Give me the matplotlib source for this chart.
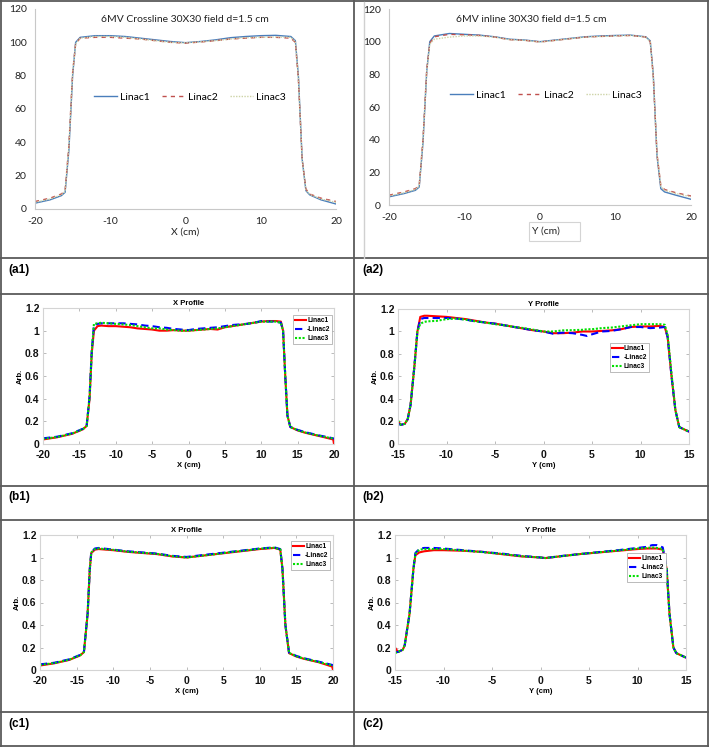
import matplotlib
matplotlib.use('Agg')
import matplotlib.pyplot as plt
from matplotlib.lines import Line2D
from matplotlib.patches import Rectangle

plt.rcParams['axes.unicode_minus'] = False

W, H = 709, 747

# ---- (a1) 6MV crossline, Excel style ----
a1_x = [-20, -18, -16.5, -16, -15.5, -15, -14.6, -14, -12, -10, -8, -6, -4, -2, 0,
        2, 4, 6, 8, 10, 12, 14, 14.6, 15, 15.5, 16, 16.5, 18, 20]
a1_linac1 = [3.5, 5.5, 8, 10, 35, 80, 100, 103, 104, 104, 103.5, 102.5, 101.5, 100.5, 99.8,
             100.5, 101.5, 102.8, 103.5, 104, 104.2, 103.5, 101, 80, 30, 11, 8.5, 5.5, 3]
a1_linac2 = [4.5, 6.5, 9, 11, 38, 82, 99, 102.5, 103, 103, 102.5, 102, 101, 100, 99.5,
             100.2, 101, 102, 102.5, 103, 103, 102.5, 100, 78, 30, 12, 9, 6.5, 4.5]
a1_linac3 = [4, 6, 8.5, 10.5, 37, 81, 99, 102.5, 103.5, 103.5, 103, 102, 101, 100, 99.7,
             100.3, 101, 102, 102.8, 103, 103.2, 103, 100.5, 79, 30, 11.5, 8.8, 6, 4]

# ---- (a2) 6MV inline ----
a2_x = a1_x
a2_linac1 = [5, 7, 9, 11, 38, 82, 100, 103.5, 105, 104.5, 104, 103, 101.5, 101, 100,
             101, 102, 103, 103.5, 103.8, 104, 103, 100.5, 80, 30, 10, 8, 6, 3.5]
a2_linac2 = [6, 8, 10, 12, 40, 83, 99, 103, 104.5, 104.2, 103.8, 102.8, 101.2, 100.8, 99.8,
             100.8, 101.8, 102.8, 103.2, 103.5, 103.8, 102.8, 100, 79, 31, 12, 9.5, 7.5, 5.5]
a2_linac3 = [5.5, 7.5, 9.5, 11.5, 39, 82, 98.5, 101.5, 102.8, 103.5, 103.5, 102.8, 101.2, 100.8, 99.8,
             100.8, 101.8, 102.8, 103.2, 103.5, 103.8, 102.8, 100, 79, 31, 11.5, 9, 7, 5]
a_labels = ['Linac1', 'Linac2', 'Linac3']

# ---- (b1) X profile ----
b1_x = [-20, -18, -16, -14.5, -14, -13.6, -13.3, -13, -12.5, -12, -11, -10, -9, -8, -7, -6, -5,
        -4, -3, -2, -1, 0, 1, 2, 3, 4, 5, 6, 7, 8, 9, 10, 11, 12, 12.7, 13, 13.3, 13.6, 14,
        15, 16, 18, 19.9, 20]
b1_linac1 = [0.04, 0.06, 0.09, 0.13, 0.16, 0.4, 0.8, 1.0, 1.04, 1.045, 1.04, 1.04, 1.035, 1.03,
             1.02, 1.015, 1.01, 1.0, 1.0, 1.005, 1.0, 1.0, 1.005, 1.01, 1.015, 1.01, 1.03, 1.04,
             1.05, 1.06, 1.07, 1.08, 1.085, 1.085, 1.08, 1.0, 0.6, 0.25, 0.15, 0.12, 0.1, 0.07,
             0.04, 0.0]
b1_linac2 = [0.05, 0.065, 0.095, 0.135, 0.16, 0.42, 0.82, 1.05, 1.06, 1.065, 1.065, 1.065, 1.065,
             1.06, 1.055, 1.045, 1.04, 1.03, 1.025, 1.015, 1.01, 1.005, 1.015, 1.02, 1.025, 1.03,
             1.04, 1.05, 1.055, 1.06, 1.07, 1.085, 1.08, 1.08, 1.07, 1.0, 0.6, 0.25, 0.15,
             0.125, 0.105, 0.075, 0.05, 0.045]
b1_linac3 = [0.045, 0.062, 0.092, 0.132, 0.16, 0.41, 0.81, 1.06, 1.065, 1.07, 1.065, 1.06, 1.055,
             1.05, 1.04, 1.03, 1.02, 1.02, 1.01, 1.005, 1.0, 1.0, 1.005, 1.01, 1.015, 1.02,
             1.03, 1.04, 1.05, 1.06, 1.07, 1.08, 1.08, 1.08, 1.07, 1.0, 0.6, 0.25, 0.15,
             0.122, 0.102, 0.072, 0.048, 0.045]

# ---- (b2) Y profile ----
b2_x = [-15, -14.7, -14.3, -14, -13.7, -13.3, -13, -12.7, -12.3, -12, -11, -10, -9, -8, -7, -6,
        -5, -4, -3, -2, -1, 0, 1, 2, 3, 4, 4.5, 5, 6, 7, 8, 9, 10, 11, 12, 12.5, 12.8, 13.2,
        13.6, 14, 15]
b2_linac1 = [0.2, 0.17, 0.18, 0.22, 0.35, 0.7, 1.0, 1.13, 1.14, 1.14, 1.135, 1.13, 1.12, 1.11,
             1.095, 1.08, 1.07, 1.055, 1.04, 1.025, 1.01, 1.0, 0.985, 0.985, 0.99, 1.0, 1.0, 1.0,
             1.005, 1.01, 1.02, 1.04, 1.045, 1.045, 1.05, 1.04, 0.95, 0.6, 0.3, 0.15, 0.11]
b2_linac2 = [0.18, 0.17, 0.18, 0.22, 0.35, 0.7, 1.0, 1.11, 1.12, 1.12, 1.12, 1.12, 1.115, 1.105,
             1.09, 1.08, 1.07, 1.055, 1.04, 1.025, 1.01, 1.0, 0.98, 0.99, 0.985, 0.97, 0.96, 0.975,
             1.0, 1.005, 1.02, 1.04, 1.04, 1.03, 1.035, 1.04, 0.95, 0.6, 0.3, 0.15, 0.11]
b2_linac3 = [0.21, 0.17, 0.18, 0.22, 0.35, 0.7, 1.0, 1.07, 1.085, 1.09, 1.095, 1.11, 1.115, 1.105,
             1.09, 1.08, 1.065, 1.055, 1.04, 1.03, 1.015, 1.0, 1.0, 1.01, 1.012, 1.015, 1.02, 1.02,
             1.03, 1.035, 1.045, 1.055, 1.065, 1.065, 1.065, 1.06, 0.97, 0.62, 0.3, 0.15, 0.11]

# ---- (c1) X profile ----
c1_x = [-20, -18, -16, -14.5, -14, -13.5, -13.2, -13, -12.5, -12, -10, -8, -6, -4, -2, 0, 2, 4,
        6, 8, 10, 12, 12.8, 13.1, 13.5, 14, 15, 16, 18, 19.9, 20]
c1_linac1 = [0.04, 0.06, 0.09, 0.13, 0.16, 0.5, 0.9, 1.04, 1.07, 1.075, 1.065, 1.05, 1.04, 1.03,
             1.01, 1.0, 1.015, 1.03, 1.045, 1.06, 1.075, 1.085, 1.07, 0.9, 0.4, 0.15, 0.12, 0.1,
             0.07, 0.03, 0.0]
c1_linac2 = [0.05, 0.065, 0.095, 0.135, 0.165, 0.5, 0.9, 1.05, 1.08, 1.085, 1.07, 1.055, 1.045,
             1.035, 1.015, 1.005, 1.02, 1.035, 1.05, 1.065, 1.08, 1.09, 1.075, 0.9, 0.4, 0.155,
             0.125, 0.105, 0.075, 0.045, 0.04]
c1_linac3 = [0.045, 0.062, 0.092, 0.132, 0.16, 0.5, 0.9, 1.045, 1.075, 1.08, 1.068, 1.052, 1.042,
             1.032, 1.012, 1.0, 1.015, 1.03, 1.048, 1.062, 1.078, 1.087, 1.072, 0.9, 0.4, 0.152,
             0.122, 0.102, 0.072, 0.04, 0.035]

# ---- (c2) Y profile ----
c2_x = [-15, -14.7, -14.2, -14, -13.5, -13.1, -12.9, -12.5, -12, -11, -10, -8, -6, -4, -2, 0,
        0.5, 2, 4, 6, 8, 10, 11, 11.5, 12, 12.6, 13, 13.3, 13.7, 14, 15]
c2_linac1 = [0.2, 0.16, 0.18, 0.22, 0.5, 0.9, 1.02, 1.045, 1.055, 1.065, 1.065, 1.06, 1.05, 1.03,
             1.01, 1.0, 0.995, 1.01, 1.03, 1.045, 1.06, 1.075, 1.08, 1.08, 1.08, 1.07, 0.9, 0.5,
             0.2, 0.15, 0.11]
c2_linac2 = [0.16, 0.16, 0.18, 0.22, 0.5, 0.9, 1.04, 1.075, 1.085, 1.085, 1.08, 1.065, 1.05,
             1.035, 1.015, 1.0, 0.995, 1.012, 1.03, 1.048, 1.065, 1.085, 1.095, 1.11, 1.11, 1.09,
             0.92, 0.5, 0.2, 0.15, 0.11]
c2_linac3 = [0.15, 0.16, 0.18, 0.22, 0.5, 0.9, 1.03, 1.07, 1.075, 1.075, 1.075, 1.062, 1.048,
             1.032, 1.012, 1.0, 0.995, 1.01, 1.03, 1.046, 1.062, 1.08, 1.085, 1.09, 1.085, 1.075,
             0.9, 0.5, 0.2, 0.15, 0.11]
bc_labels = ['Linac1', '-Linac2', 'Linac3']

fig = plt.figure(figsize=(W / 100, H / 100), dpi=100)
fig.patch.set_facecolor('white')


def px(left, top, right, bottom):
    return [left / W, 1 - bottom / H, (right - left) / W, (bottom - top) / H]


# ---- table grid ----
grid_col = '#5a5a5a'
for yy in [1, 258, 294, 486, 520, 712, 746]:
    fig.add_artist(Line2D([0, 1], [1 - yy / H, 1 - yy / H], color=grid_col, lw=1.3))
for xx in [0.5, 354, 708]:
    fig.add_artist(Line2D([xx / W, xx / W], [0, 1], color=grid_col, lw=1.3))

cell_labels = [('(a1)', 8, 270), ('(a2)', 362, 270), ('(b1)', 8, 497),
               ('(b2)', 362, 497), ('(c1)', 8, 724), ('(c2)', 362, 724)]
for txt, xx, yy in cell_labels:
    fig.text(xx / W, 1 - yy / H, txt, fontsize=8.5, fontweight='bold',
             family='Liberation Sans', va='center', ha='left')


def excel_panel(rect, x, ys, title, xlabel, title_x, leg_center, label_x=None):
    ax = fig.add_axes(rect)
    cols = ['#4a7ebb', '#c0504d', '#cdd3a6']
    styles = ['-', (0, (3, 3)), (0, (1, 1))]
    for y, c, ls, lab in zip(ys, cols, styles, a_labels):
        ax.plot(x, y, color=c, ls=ls, lw=1.0, label=lab)
    ax.set_xlim(-20, 20)
    ax.set_ylim(0, 120)
    ax.set_xticks([-20, -10, 0, 10, 20])
    ax.set_yticks(range(0, 121, 20))
    for s in ['top', 'right']:
        ax.spines[s].set_visible(False)
    for s in ['left', 'bottom']:
        ax.spines[s].set_color('#c8c8c8')
        ax.spines[s].set_linewidth(0.8)
    ax.tick_params(length=0, labelsize=7.5, pad=6, colors='#222222')
    for t in ax.get_xticklabels() + ax.get_yticklabels():
        t.set_family('Lato')
    fig.text(title_x / W, 1 - 20 / H, title, fontsize=7.5, family='Lato',
             ha='center', va='center', color='#222222')
    if label_x is None:
        ax.set_xlabel(xlabel, fontsize=7.5, family='Lato', labelpad=1, color='#222222')
    else:
        # x label sitting in its own little box, as in the source picture
        fig.add_artist(Rectangle((529 / W, 1 - 241 / H), 51 / W, 19 / H, facecolor='white',
                                 edgecolor='#d4d4d4', lw=0.8, transform=fig.transFigure))
        fig.text(label_x / W, 1 - 231 / H, xlabel, fontsize=7.5, family='Lato',
                 ha='center', va='center', color='#222222')
    ax.legend(loc='center', bbox_to_anchor=(leg_center[0] / W, 1 - leg_center[1] / H),
              bbox_transform=fig.transFigure, ncol=3, frameon=False,
              handlelength=2.2, handletextpad=0.3, columnspacing=1.2,
              prop={'family': 'Lato', 'size': 7.5})
    return ax


excel_panel(px(35, 9, 336, 209), a1_x, [a1_linac1, a1_linac2, a1_linac3],
            '6MV Crossline 30X30 field d=1.5 cm', 'X (cm)', 185, (190, 97))
excel_panel(px(389, 9, 691, 205), a2_x, [a2_linac1, a2_linac2, a2_linac3],
            '6MV inline 30X30 field d=1.5 cm', 'Y (cm)', 531, (546, 95), label_x=546)
fig.add_artist(Line2D([364 / W, 364 / W], [1 - 258 / H, 1 - 2 / H], color='#d0d0d0', lw=1.0))


def matlab_panel(rect, x, ys, title, xlabel, xlim, leg_anchor):
    ax = fig.add_axes(rect)
    cols = ['#ff0000', '#0000ff', '#00e000']
    styles = ['-', (0, (3.5, 2)), (0, (1, 0.8))]
    for y, c, ls, lab in zip(ys, cols, styles, bc_labels):
        ax.plot(x, y, color=c, ls=ls, lw=1.5, label=lab)
    ax.set_xlim(*xlim)
    ax.set_ylim(0, 1.2)
    ax.set_xticks(range(xlim[0], xlim[1] + 1, 5))
    ax.set_yticks([0, 0.2, 0.4, 0.6, 0.8, 1, 1.2])
    ax.set_yticklabels(['0', '0.2', '0.4', '0.6', '0.8', '1', '1.2'])
    for s in ax.spines.values():
        s.set_color('#d4d4d4')
        s.set_linewidth(0.8)
    ax.tick_params(direction='in', length=2.5, width=0.6, color='#b0b0b0',
                   top=True, right=True, labelsize=7.5, labelcolor='#111111')
    ax.tick_params(axis='x', pad=4.5)
    ax.tick_params(axis='y', pad=2.5)
    for t in ax.get_xticklabels() + ax.get_yticklabels():
        t.set_family('Liberation Sans')
        t.set_fontweight('bold')
    ax.set_title(title, fontsize=5.5, fontweight='bold', family='Liberation Sans', pad=2)
    ax.set_xlabel(xlabel, fontsize=5.5, fontweight='bold', family='Liberation Sans', labelpad=1)
    ax.set_ylabel('Arb.', fontsize=5.5, fontweight='bold', family='Liberation Sans', labelpad=1)
    leg = ax.legend(loc='upper left', bbox_to_anchor=(leg_anchor[0] / W, 1 - leg_anchor[1] / H),
                    bbox_transform=fig.transFigure, handlelength=1.6,
                    handletextpad=0.2, borderpad=0.3, labelspacing=0.3,
                    fancybox=False, framealpha=1, borderaxespad=0,
                    prop={'family': 'Liberation Sans', 'weight': 'bold', 'size': 4.8})
    leg.get_frame().set_edgecolor('#a0a0a0')
    leg.get_frame().set_linewidth(0.5)
    return ax


matlab_panel(px(43, 308, 334, 444), b1_x, [b1_linac1, b1_linac2, b1_linac3],
             'X Profile', 'X (cm)', (-20, 20), (293, 315))
matlab_panel(px(398, 309, 689, 444), b2_x, [b2_linac1, b2_linac2, b2_linac3],
             'Y Profile', 'Y (cm)', (-15, 15), (610, 343))
matlab_panel(px(40, 535, 333, 670), c1_x, [c1_linac1, c1_linac2, c1_linac3],
             'X Profile', 'X (cm)', (-20, 20), (291, 541))
matlab_panel(px(395, 535, 686, 670), c2_x, [c2_linac1, c2_linac2, c2_linac3],
             'Y Profile', 'Y (cm)', (-15, 15), (627, 553))

fig.savefig('out.png', dpi=100)
